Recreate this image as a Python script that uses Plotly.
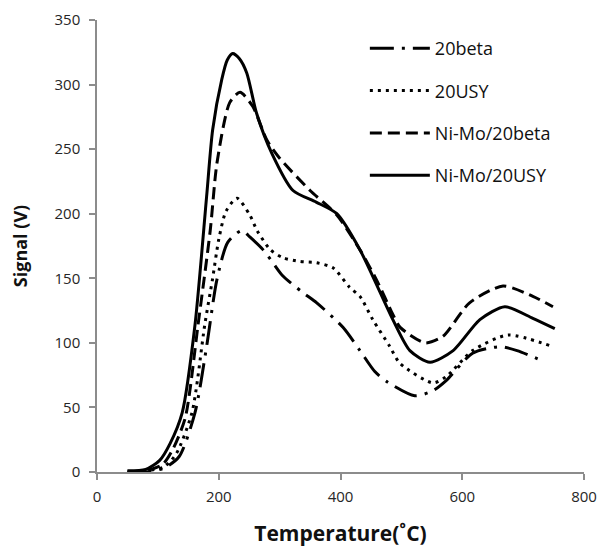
import plotly.graph_objects as go

# 20beta
beta_t = [50, 80, 110, 135, 161, 180, 197, 215, 238, 251, 273, 289, 305, 338, 361, 404, 432, 456, 476, 522, 552, 574, 617, 662, 690, 732]
beta_v = [0, 0, 3, 12, 46, 97, 149, 178, 187, 182, 172, 162, 152, 139, 131, 112, 94, 78, 70, 59, 63, 71, 92, 97, 94, 86]

# 20USY
usy_t = [50, 80, 110, 130, 156, 177, 190, 200, 212, 230, 251, 263, 285, 305, 333, 361, 388, 415, 432, 453, 480, 498, 552, 574, 617, 675, 749]
usy_v = [0, 1, 4, 14, 46, 114, 150, 180, 202, 212, 199, 187, 172, 166, 163, 162, 158, 143, 136, 118, 98, 84, 69, 74, 94, 106, 97]

# Ni-Mo/20beta
nimo_beta_t = [55, 80, 108, 125, 145, 166, 186, 197, 218, 235, 256, 279, 300, 350, 394, 432, 460, 486, 498, 539, 568, 612, 667, 716, 749]
nimo_beta_v = [0, 1, 6, 18, 42, 114, 187, 239, 286, 294, 283, 257, 243, 218, 199, 172, 148, 122, 112, 100, 105, 131, 144, 136, 128]

# Ni-Mo/20USY
nimo_usy_t = [50, 80, 103, 120, 140, 161, 180, 190, 205, 214, 223, 234, 246, 262, 287, 322, 360, 394, 432, 486, 514, 547, 585, 629, 670, 716, 752]
nimo_usy_v = [1, 2, 9, 22, 46, 114, 213, 265, 304, 319, 324, 320, 309, 278, 247, 218, 209, 200, 172, 118, 94, 85, 94, 118, 128, 119, 111]

x_ticks = [0, 200, 400, 600, 800]
y_ticks = [0, 50, 100, 150, 200, 250, 300, 350]

series = [
    ("20beta", beta_t, beta_v, "24px,8px,3px,8px"),
    ("20USY", usy_t, usy_v, "3px,5px"),
    ("Ni-Mo/20beta", nimo_beta_t, nimo_beta_v, "12px,6px"),
    ("Ni-Mo/20USY", nimo_usy_t, nimo_usy_v, "solid"),
]

fig = go.Figure()
for name, t, v, dash in series:
    fig.add_trace(go.Scatter(
        x=t, y=v, name=name, mode="lines", legendgroup=name,
        line=dict(color="black", width=3, dash=dash, shape="spline", smoothing=0.7),
    ))

font_family = "'Open Sans', sans-serif"

# page body has an 8px margin, so the figure is sized 8px smaller than the window
fig.update_layout(
    width=600, height=541,
    margin=dict(l=89, r=24, t=12, b=77),
    paper_bgcolor="white", plot_bgcolor="white",
    font=dict(family=font_family, color="#262626", size=15),
    legend=dict(
        x=0.55, y=0.978, xanchor="left", yanchor="top",
        font=dict(size=18, color="#111111"),
        itemwidth=60,
        tracegroupgap=16, bgcolor="rgba(0,0,0,0)",
    ),
)

fig.update_xaxes(
    range=[0, 800], tickvals=x_ticks, showgrid=False, zeroline=False, automargin=False,
    showline=True, linecolor="#8c8c8c", linewidth=1.5,
    ticks="outside", ticklen=6, tickcolor="#8c8c8c", tickwidth=1.5, ticklabelstandoff=4,
    title=dict(text="<b>Temperature(˚C)</b>", font=dict(size=21, color="#111111"), standoff=22),
)
fig.update_yaxes(
    range=[0, 350], tickvals=y_ticks, showgrid=False, zeroline=False, automargin=False,
    showline=True, linecolor="#8c8c8c", linewidth=1.5,
    ticks="outside", ticklen=6, tickcolor="#8c8c8c", tickwidth=1.5, ticklabelstandoff=6,
    title=dict(text="<b>Signal (V)</b>", font=dict(size=18, color="#111111"), standoff=24),
)

fig.write_html("out.html")
